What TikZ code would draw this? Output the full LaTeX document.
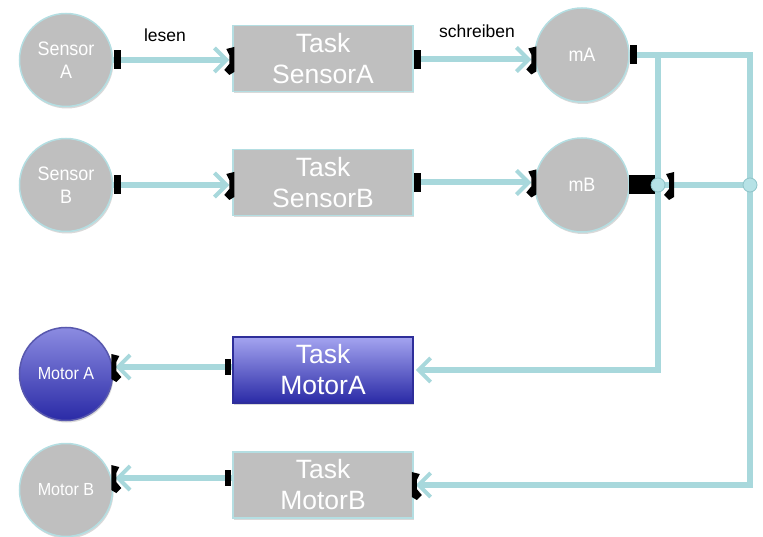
\documentclass[tikz,border=0pt]{standalone}
\usepackage{fontspec}
\setmainfont{Liberation Sans}
\newfontfamily\thinsans[FakeStretch=0.92]{Liberation Sans}
\usetikzlibrary{arrows.meta,shadows,calc}

\definecolor{wire}{HTML}{A8D8DC}
\definecolor{rim}{HTML}{B4DEE2}
\definecolor{shell}{HTML}{BFBFBF}
\definecolor{bluetop}{HTML}{A4A4F0}
\definecolor{bluebot}{HTML}{2A2AA6}
\definecolor{blueedge}{HTML}{2E2E9A}
\definecolor{dotfill}{HTML}{B6E2E6}
\definecolor{dotedge}{HTML}{8EC4C9}

\tikzset{
  softshadow/.style={drop shadow={shadow xshift=1pt, shadow yshift=-2pt, opacity=0.25, fill=black!60}},
  unit/.style={circle, minimum size=93pt, inner sep=0pt, fill=shell, draw=rim,
    line width=1.5pt, text=white, align=center, softshadow,
    font=\thinsans\fontsize{19.5}{23}\selectfont},
  taskbox/.style={rectangle, minimum width=180pt, minimum height=66pt, inner sep=0pt,
    fill=shell, draw=rim, line width=1.5pt, text=white, align=center, softshadow,
    font=\fontsize{26.5}{31}\selectfont},
  wireline/.style={wire, line width=6pt, line join=miter},
  flow/.style={wireline, -{Straight Barb[length=12pt,width=24pt,line width=4pt]}},
  joint/.style={circle, minimum size=14pt, inner sep=0pt, fill=dotfill, draw=dotedge, line width=0.8pt},
  portmark/.style={rectangle, fill=black, minimum width=7pt, minimum height=19pt, inner sep=0pt},
  tag/.style={font=\fontsize{17.5}{21}\selectfont, text=black},
  endmark/.pic={
    \fill[black] (2,-13) -- (-6,-11) -- (-3,-5) -- (-3,4) -- (-8,10) -- (-3,15) -- (2,12) -- cycle;
  }
}

\begin{document}
\begin{tikzpicture}[x=1pt,y=-1pt]
\useasboundingbox (0,0) rectangle (763,537);

% sensors, tasks and shared memory
\node[unit] (sa) at (66,60) {Sensor\\A};
\node[unit] (sb) at (66,185) {Sensor\\B};
\node[taskbox] (tsa) at (323,58.5) {Task\\SensorA};
\node[taskbox] (tsb) at (323,182.5) {Task\\SensorB};
\node[unit, minimum size=94pt] (ma) at (582,55) {mA};
\node[unit, minimum size=94pt] (mb) at (582,185) {mB};

% motor side
\node[taskbox, top color=bluetop, bottom color=bluebot, draw=blueedge] (tma) at (323,370) {Task\\MotorA};
\node[taskbox] (tmb) at (323,485) {Task\\MotorB};
\node[unit, top color=bluetop!80!bluebot, bottom color=bluebot, draw=blueedge!80!white,
  font=\thinsans\fontsize{17.5}{20}\selectfont] (mota) at (66,374) {Motor A};
\node[unit, font=\thinsans\fontsize{17.5}{20}\selectfont] (motb) at (66,490) {Motor B};

% read and write connections
\draw[flow, shorten >=3pt] (sa.east) -- (sa.east -| tsa.west);
\draw[flow, shorten >=3pt] (sb.east) -- (sb.east -| tsb.west);
\draw[flow, shorten >=3pt] ([yshift=-1pt]tsa.east) -- ([yshift=-1pt]tsa.east -| ma.west);
\draw[flow, shorten >=3pt] (tsb.east) -- (tsb.east -| mb.west);

% distribution of mA / mB to the motor tasks
\coordinate (tap) at (658,0);
\coordinate (rail) at (750,0);
\draw[flow, shorten >=2pt] (ma.east) -| (rail |- tmb.east) -- (tmb.east);
\draw[flow, shorten >=2pt] (tap |- ma.east) -- (tap |- tma.east) -- (tma.east);
\draw[wireline] (mb.east) -- (mb.east -| rail);

% motor outputs
\draw[flow, shorten >=2pt] ([yshift=3pt]tma.west) -- ([yshift=3pt]tma.west -| mota.east);
\draw[flow, shorten >=2pt] ([yshift=7pt]tmb.west) -- ([yshift=7pt]tmb.west -| motb.east);

% labels
\node[tag] (lread) at (165,35) {lesen};
\node[tag] (lwrite) at (477,31) {schreiben};

% port markers
\node[portmark] (p1) at ([xshift=4pt]sa.east) {};
\node[portmark] (p2) at ([xshift=4pt]sb.east) {};
\node[portmark] (p3) at ([xshift=4pt,yshift=-1pt]tsa.east) {};
\node[portmark] (p4) at ([xshift=4pt]tsb.east) {};
\node[portmark] (p5) at ([xshift=4pt]ma.east) {};
\node[portmark, minimum width=26pt] (p6) at ([xshift=12pt]mb.east) {};
\node[portmark, minimum width=6pt, minimum height=16pt] (p7) at ([xshift=-4pt,yshift=3pt]tma.west) {};
\node[portmark, minimum width=6pt, minimum height=16pt] (p8) at ([xshift=-4pt,yshift=7pt]tmb.west) {};
\pic at (tsa.west |- sa.east) {endmark};
\pic at (tsb.west |- sb.east) {endmark};
\pic at ([yshift=-1pt]tsa.east -| ma.west) {endmark};
\pic at (tsb.east -| mb.west) {endmark};
\pic at ([xshift=14pt]tap |- mb.east) {endmark};
\pic[xscale=-1] at (tmb.east) {endmark};
\pic[xscale=-1] at ([yshift=3pt]tma.west -| mota.east) {endmark};
\pic[xscale=-1] at ([yshift=7pt]tmb.west -| motb.east) {endmark};

% junction dots
\node[joint] (j1) at (tap |- mb.east) {};
\node[joint] (j2) at (rail |- mb.east) {};
\end{tikzpicture}
\end{document}
